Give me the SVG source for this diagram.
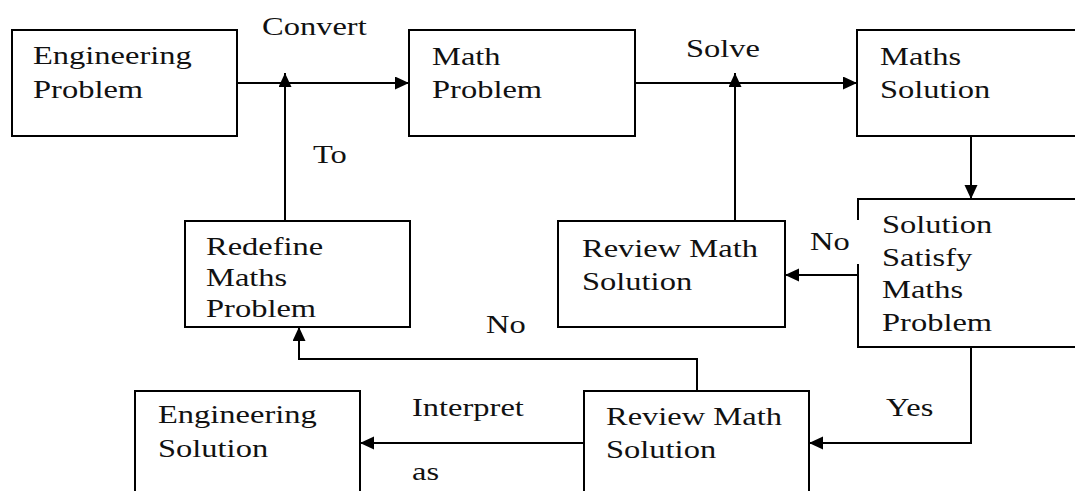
<svg xmlns="http://www.w3.org/2000/svg" width="1075" height="491" viewBox="0 0 1075 491">
<style>
.box{fill:#fff;stroke:#000;stroke-width:2}
.edge{fill:none;stroke:#000;stroke-width:2}
text{font-family:'Liberation Serif','Times New Roman',Tinos,'DejaVu Serif','Noto Serif',serif;font-size:25px;fill:#111}
</style>
<defs>
<marker id="ah" markerUnits="userSpaceOnUse" markerWidth="15" markerHeight="14" refX="14" refY="6.5" orient="auto">
<path d="M0,0 L14,6.5 L0,13 z" fill="#000"/>
</marker>
</defs>
<rect width="1075" height="491" fill="#fff"/>
<g id="eng-problem">
<rect class="box" x="12" y="30" width="225" height="106"/>
<text font-family="Liberation Serif, serif" transform="translate(33,64) scale(1.3,1)"><tspan x="0">Engineering</tspan><tspan x="0" dy="34">Problem</tspan></text>
</g>
<g id="math-problem">
<rect class="box" x="409" y="30" width="226" height="106"/>
<text font-family="Liberation Serif, serif" transform="translate(432,65) scale(1.3,1)"><tspan x="0">Math</tspan><tspan x="0" dy="33">Problem</tspan></text>
</g>
<g id="maths-solution">
<rect class="box" x="857" y="30" width="230" height="106"/>
<text font-family="Liberation Serif, serif" transform="translate(880,65) scale(1.3,1)"><tspan x="0">Maths</tspan><tspan x="0" dy="33">Solution</tspan></text>
</g>
<g id="solution-satisfy">
<path class="edge" d="M858,220 V199 H1087 M858,264 V347 H1087"/>
<text font-family="Liberation Serif, serif" transform="translate(882,233) scale(1.3,1)"><tspan x="0">Solution</tspan><tspan x="0" dy="33">Satisfy</tspan><tspan x="0" dy="32">Maths</tspan><tspan x="0" dy="33">Problem</tspan></text>
</g>
<g id="review-math-mid">
<rect class="box" x="558" y="221" width="227" height="106"/>
<text font-family="Liberation Serif, serif" transform="translate(582,257) scale(1.3,1)"><tspan x="0">Review Math</tspan><tspan x="0" dy="33">Solution</tspan></text>
</g>
<g id="redefine">
<rect class="box" x="185" y="221" width="225" height="106"/>
<text font-family="Liberation Serif, serif" transform="translate(206,255) scale(1.3,1)"><tspan x="0">Redefine</tspan><tspan x="0" dy="31">Maths</tspan><tspan x="0" dy="31">Problem</tspan></text>
</g>
<g id="eng-solution">
<rect class="box" x="135" y="391" width="225" height="120"/>
<text font-family="Liberation Serif, serif" transform="translate(158,423) scale(1.3,1)"><tspan x="0">Engineering</tspan><tspan x="0" dy="34">Solution</tspan></text>
</g>
<g id="review-math-bottom">
<rect class="box" x="584" y="391" width="225" height="120"/>
<text font-family="Liberation Serif, serif" transform="translate(606,425) scale(1.3,1)"><tspan x="0">Review Math</tspan><tspan x="0" dy="33">Solution</tspan></text>
</g>
<g id="connectors">
<path class="edge" d="M237,83 H409" marker-end="url(#ah)"/>
<path class="edge" d="M285,221 V73" marker-end="url(#ah)"/>
<path class="edge" d="M635,83 H857" marker-end="url(#ah)"/>
<path class="edge" d="M735,221 V73" marker-end="url(#ah)"/>
<path class="edge" d="M971,136 V199" marker-end="url(#ah)"/>
<path class="edge" d="M858,275 H785" marker-end="url(#ah)"/>
<path class="edge" d="M697,391 V359 H299 V327" marker-end="url(#ah)"/>
<path class="edge" d="M971,347 V443 H809" marker-end="url(#ah)"/>
<path class="edge" d="M584,443 H360" marker-end="url(#ah)"/>
</g>
<g id="labels" font-family="Liberation Serif, serif">
<text font-family="Liberation Serif, serif" transform="translate(262,35) scale(1.3,1)">Convert</text>
<text font-family="Liberation Serif, serif" transform="translate(313,163) scale(1.3,1)">To</text>
<text font-family="Liberation Serif, serif" transform="translate(686,57) scale(1.3,1)">Solve</text>
<text font-family="Liberation Serif, serif" transform="translate(810,250) scale(1.3,1)">No</text>
<text font-family="Liberation Serif, serif" transform="translate(486,333) scale(1.3,1)">No</text>
<text font-family="Liberation Serif, serif" transform="translate(886,416) scale(1.3,1)">Yes</text>
<text font-family="Liberation Serif, serif" transform="translate(412,416) scale(1.3,1)">Interpret</text>
<text font-family="Liberation Serif, serif" transform="translate(412,480) scale(1.3,1)">as</text>
</g>
</svg>
